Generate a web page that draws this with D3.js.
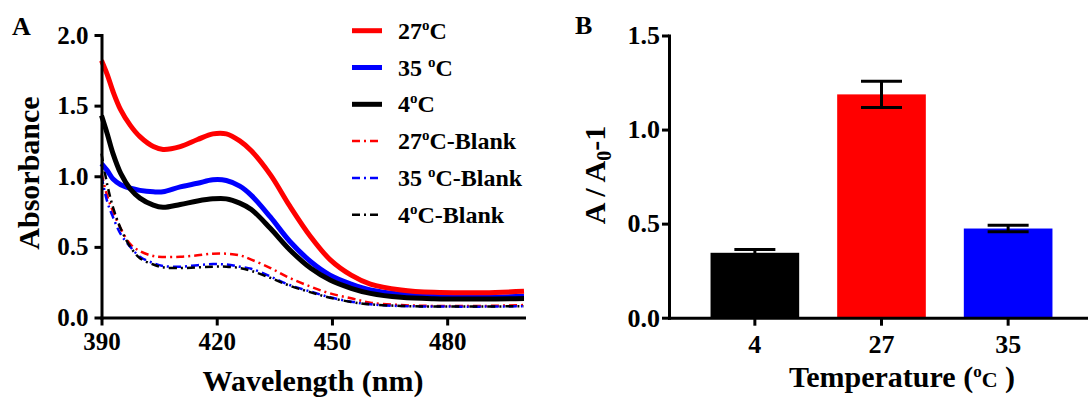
<!DOCTYPE html>
<html>
<head>
<meta charset="utf-8">
<script src="https://cdn.jsdelivr.net/npm/d3@7"></script>
<style>
body { margin: 0; background: #fff; }
text { font-family: "Liberation Serif", "Times New Roman", serif; font-weight: bold; fill: #000; }
</style>
</head>
<body>
<svg id="chart" width="1088" height="405"></svg>
<script>
// spectra
var wavelength = [390, 391.5, 393, 395, 397.5, 400, 403.5, 406, 410.5, 415, 419, 422.5, 426, 429, 434, 439, 444.5, 449.5, 455, 460, 468, 476.5, 489.5, 500];
var abs27 = [1.82, 1.72, 1.60, 1.47, 1.36, 1.28, 1.21, 1.19, 1.21, 1.26, 1.30, 1.30, 1.25, 1.18, 1.01, 0.79, 0.57, 0.41, 0.30, 0.237, 0.195, 0.178, 0.176, 0.185];
var abs35 = [1.09, 1.04, 0.98, 0.94, 0.915, 0.90, 0.89, 0.89, 0.925, 0.95, 0.975, 0.97, 0.93, 0.865, 0.71, 0.54, 0.395, 0.30, 0.237, 0.195, 0.164, 0.15, 0.145, 0.15];
var abs4 = [1.43, 1.30, 1.16, 1.02, 0.91, 0.845, 0.795, 0.78, 0.80, 0.825, 0.84, 0.84, 0.81, 0.765, 0.63, 0.48, 0.348, 0.265, 0.207, 0.171, 0.143, 0.133, 0.131, 0.135];
var blank27 = [1.02, 0.86, 0.75, 0.63, 0.52, 0.47, 0.435, 0.428, 0.43, 0.44, 0.452, 0.452, 0.44, 0.41, 0.35, 0.28, 0.218, 0.171, 0.136, 0.105, 0.088, 0.082, 0.082, 0.088];
var blank35 = [1.00, 0.82, 0.71, 0.59, 0.50, 0.43, 0.385, 0.365, 0.36, 0.37, 0.378, 0.375, 0.36, 0.345, 0.29, 0.23, 0.183, 0.143, 0.112, 0.093, 0.081, 0.078, 0.077, 0.08];
var blank4 = [1.16, 0.94, 0.78, 0.63, 0.50, 0.42, 0.375, 0.355, 0.35, 0.355, 0.36, 0.36, 0.35, 0.33, 0.28, 0.225, 0.178, 0.14, 0.11, 0.093, 0.082, 0.078, 0.078, 0.08];
var specTicks = [390, 420, 450, 480];
var absTicks = [0, 0.5, 1.0, 1.5, 2.0];

// panel B
var tempCats = ["4", "27", "35"];
var ratioMean = [0.345, 1.187, 0.474];
var ratioErr = [0.018, 0.07, 0.017];
var ratioTicks = [0, 0.5, 1.0, 1.5];

var serif = '"Liberation Serif", "Times New Roman", serif';
var svg = d3.select("#chart");

function styleAxis(g, size) {
  g.attr("font-family", serif).attr("font-weight", "bold");
  g.selectAll(".domain").attr("stroke", "#000").attr("stroke-width", 3).attr("stroke-linecap", "square");
  g.selectAll(".tick line").attr("stroke", "#000").attr("stroke-width", 3);
  g.selectAll(".tick text")
    .style("font-family", serif)
    .style("font-weight", "bold")
    .style("font-size", size + "px")
    .attr("fill", "#000");
}

// ---------- panel A ----------
var x = d3.scaleLinear().domain([390, 500]).range([101.5, 524]);
var y = d3.scaleLinear().domain([0, 2]).range([317.5, 35]);

var series = [
  {name: ["27", "o", "C-Blank"], vals: blank27, color: "#ff0000", dash: true},
  {name: ["35 ", "o", "C-Blank"], vals: blank35, color: "#0000ff", dash: true},
  {name: ["4", "o", "C-Blank"], vals: blank4, color: "#000000", dash: true},
  {name: ["35 ", "o", "C"], vals: abs35, color: "#0000ff", dash: false},
  {name: ["4", "o", "C"], vals: abs4, color: "#000000", dash: false},
  {name: ["27", "o", "C"], vals: abs27, color: "#ff0000", dash: false}
];
var legendOrder = [5, 3, 4, 0, 1, 2];

var line = d3.line()
  .x(function(d, i) { return x(wavelength[i]); })
  .y(function(d) { return y(d); })
  .curve(d3.curveCatmullRom.alpha(0.5));

var plotA = svg.append("g");
series.forEach(function(s) {
  plotA.append("path")
    .attr("d", line(s.vals))
    .attr("fill", "none")
    .attr("stroke", s.color)
    .attr("stroke-width", s.dash ? 2.5 : 5)
    .attr("stroke-dasharray", s.dash ? "8,4,2,4" : null);
});

var xAxisA = svg.append("g")
  .attr("transform", "translate(0," + y(0) + ")")
  .call(d3.axisBottom(x).tickValues(specTicks).tickSize(8).tickSizeOuter(0).tickPadding(7));
styleAxis(xAxisA, 25);

var yAxisA = svg.append("g")
  .attr("transform", "translate(" + x(390) + ",0)")
  .call(d3.axisLeft(y).tickValues(absTicks).tickFormat(d3.format(".1f")).tickSize(7).tickSizeOuter(0).tickPadding(6));
styleAxis(yAxisA, 25);

svg.append("text").attr("x", 12).attr("y", 35).style("font-size", "26px").text("A");

svg.append("text")
  .attr("transform", "translate(39,173) rotate(-90)")
  .attr("text-anchor", "middle")
  .style("font-size", "30px")
  .text("Absorbance");

svg.append("text")
  .attr("x", 313)
  .attr("y", 391)
  .attr("text-anchor", "middle")
  .style("font-size", "30px")
  .text("Wavelength (nm)");

// legend
var legend = svg.append("g");
legendOrder.forEach(function(k, i) {
  var s = series[k], ly = 30.7 + i * 36.8;
  legend.append("line")
    .attr("x1", 352).attr("x2", 382).attr("y1", ly).attr("y2", ly)
    .attr("stroke", s.color)
    .attr("stroke-width", s.dash ? 2.5 : 5)
    .attr("stroke-dasharray", s.dash ? "8,4,2,4" : null);
  var t = legend.append("text").attr("x", 398).attr("y", ly + 8).style("font-size", "24px");
  t.append("tspan").text(s.name[0]);
  t.append("tspan").attr("dy", -9).style("font-size", "15px").text(s.name[1]);
  t.append("tspan").attr("dy", 9).text(s.name[2]);
});

// ---------- panel B ----------
var xb = d3.scaleBand().domain(tempCats).range([669, 1094]).paddingInner(0.3).paddingOuter(0.328);
var yb = d3.scaleLinear().domain([0, 1.5]).range([317.7, 35.5]);
var barColors = ["#000000", "#ff0000", "#0000ff"];

var bars = svg.append("g");
tempCats.forEach(function(c, i) {
  bars.append("rect")
    .attr("x", xb(c))
    .attr("y", yb(ratioMean[i]))
    .attr("width", xb.bandwidth())
    .attr("height", yb(0) - yb(ratioMean[i]))
    .attr("fill", barColors[i]);
  var cx = xb(c) + xb.bandwidth() / 2,
      top = yb(ratioMean[i] + ratioErr[i]),
      bot = yb(ratioMean[i] - ratioErr[i]);
  bars.append("line").attr("x1", cx).attr("x2", cx).attr("y1", top).attr("y2", bot)
    .attr("stroke", "#000").attr("stroke-width", 3);
  [top, bot].forEach(function(yy) {
    bars.append("line").attr("x1", cx - 20.5).attr("x2", cx + 20.5).attr("y1", yy).attr("y2", yy)
      .attr("stroke", "#000").attr("stroke-width", 3);
  });
});

var xAxisB = svg.append("g")
  .attr("transform", "translate(0," + yb(0) + ")")
  .call(d3.axisBottom(xb).tickSize(8).tickSizeOuter(0).tickPadding(9));
styleAxis(xAxisB, 26);

var yAxisB = svg.append("g")
  .attr("transform", "translate(669,0)")
  .call(d3.axisLeft(yb).tickValues(ratioTicks).tickFormat(d3.format(".1f")).tickSize(7).tickSizeOuter(0).tickPadding(2));
styleAxis(yAxisB, 26);

svg.append("text").attr("x", 575).attr("y", 34).style("font-size", "26px").text("B");

var yt = svg.append("text")
  .attr("transform", "translate(605,175) rotate(-90)")
  .attr("text-anchor", "middle")
  .style("font-size", "30px");
yt.append("tspan").text("A / A");
yt.append("tspan").attr("dy", 6).style("font-size", "20px").text("0");
yt.append("tspan").attr("dy", -6).text("-1");

var xt = svg.append("text")
  .attr("x", 902)
  .attr("y", 387)
  .attr("text-anchor", "middle")
  .style("font-size", "30px");
xt.append("tspan").text("Temperature (");
xt.append("tspan").attr("dy", -10).style("font-size", "17px").text("o");
xt.append("tspan").attr("dy", 10).style("font-size", "22px").text("C");
xt.append("tspan").text(" )");
</script>
</body>
</html>
